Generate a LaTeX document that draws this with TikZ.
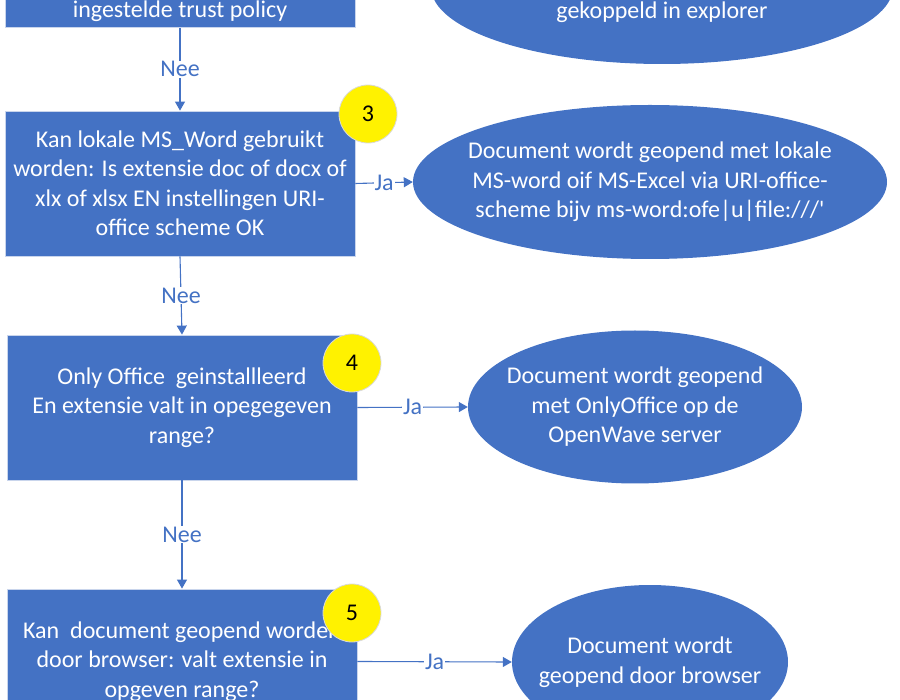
\documentclass[tikz,border=0pt]{standalone}
\usepackage{fontspec}
\setmainfont{Carlito}
\usetikzlibrary{arrows.meta,shapes.geometric}
\definecolor{obox}{HTML}{4472C4}
\definecolor{oline}{HTML}{4472C4}
\definecolor{oedge}{HTML}{C9D5EC}
\begin{document}
\begin{tikzpicture}[x=1pt,y=-1pt,font=\fontsize{24}{29.5}\selectfont,
  box/.style={rectangle, fill=obox, draw=oedge, line width=0.8pt, minimum width=350pt, minimum height=145pt, text=white, align=center, inner sep=0pt},
  ell/.style={ellipse, fill=obox, inner sep=0pt},
  etxt/.style={text=white, align=center, inner sep=0pt},
  num/.style={circle, fill=yellow, draw=black!15, line width=0.8pt, minimum size=58pt, inner sep=0pt, text=black},
  conn/.style={draw=oline, line width=1.1pt, -{Triangle[width=10pt,length=9pt]}},
  lab/.style={fill=white, text=oline, inner sep=1pt}]
\useasboundingbox (0,0) rectangle (900,700);
\clip (0,0) rectangle (900,700);
% top (cut) elements
\node[box, anchor=south] (b1) at (180,28) {};
\node[etxt] (b1t) at (180,11) {ingestelde trust policy};
\node[ell, minimum width=462pt, minimum height=154pt] (e1) at (662,-13) {};
\node[etxt] (e1t) at (662,12) {gekoppeld in explorer};
% boxes
\node[box] (b2) at (180,183.5) {Kan lokale MS\_Word gebruikt\\worden: Is extensie doc of docx of\\xlx of xlsx EN instellingen URI-\\office scheme OK};
\node[box] (b3) at (182,407.5) {Only Office\ \ geinstallleerd\\En extensie valt in opegegeven\\range?};
\node[box] (b4) at (182,661.5) {Kan\ \ document geopend worden\\door browser: valt extensie in\\opgeven range?};
% ellipses
\node[ell, minimum width=474pt, minimum height=154pt] (e2) at (650,182) {};
\node[etxt] (e2t) at (e2) {Document wordt geopend met lokale\\MS-word oif MS-Excel via URI-office-\\scheme bijv ms-word:ofe|u|file:///\textquotesingle};
\node[ell, minimum width=334pt, minimum height=153pt] (e3) at (635,407) {};
\node[etxt] (e3t) at (e3) {Document wordt geopend\\met OnlyOffice op de\\OpenWave server};
\node[ell, minimum width=276pt, minimum height=154pt] (e4) at (650,662) {};
\node[etxt] (e4t) at (e4) {Document wordt\\geopend door browser};
% number circles
\node[num] (c3) at (368,114) {3};
\node[num] (c4) at (352,363) {4};
\node[num] (c5) at (352,613) {5};
% connectors
\draw[conn] (b1.south) -- node[lab] (l1) {Nee} (b2.north);
\draw[conn] (b2.south) -- node[lab] (l2) {Nee} (b3.north);
\draw[conn] (b3.south) -- node[lab] (l3) {Nee} (b4.north);
\draw[conn] (b2.east) -- node[lab] (l4) {Ja} (e2.west);
\draw[conn] (b3.east) -- node[lab] (l5) {Ja} (e3.west);
\draw[conn] (b4.east) -- node[lab] (l6) {Ja} (e4.west);
\end{tikzpicture}
\end{document}
